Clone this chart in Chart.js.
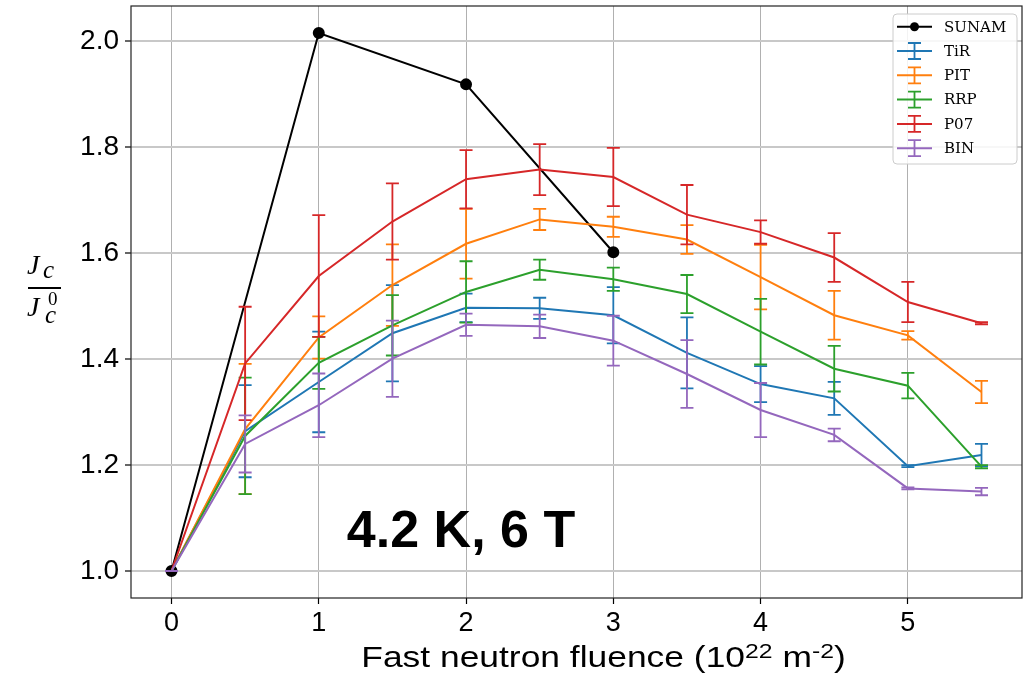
<!DOCTYPE html>
<html>
<head>
<meta charset="utf-8">
<script src="https://cdn.jsdelivr.net/npm/chart.js@4"></script>
<style>
  body { margin: 0; background: #fff; }
  canvas { display: block; }
</style>
</head>
<body>
<canvas id="chart" width="1023" height="687"></canvas>
<script>
// fluence values (10^22 m^-2)
const fluence = [0, 0.5, 1, 1.5, 2, 2.5, 3, 3.5, 4, 4.5, 5, 5.5]
const sunamX = [0, 1, 2, 3]
const sunamY = [1.0, 2.016, 1.919, 1.602]

const tiR = [1.0, 1.264, 1.357, 1.449, 1.497, 1.496, 1.483, 1.412, 1.353, 1.326, 1.198, 1.219]
const tiRErr = [0, 0.087, 0.095, 0.091, 0.027, 0.020, 0.053, 0.067, 0.034, 0.031, 0.002, 0.021]
const pit = [1.0, 1.268, 1.441, 1.540, 1.618, 1.664, 1.650, 1.626, 1.555, 1.483, 1.445, 1.338]
const pitErr = [0, 0.123, 0.040, 0.077, 0.066, 0.020, 0.019, 0.027, 0.061, 0.046, 0.008, 0.021]
const rrp = [1.0, 1.255, 1.393, 1.464, 1.527, 1.569, 1.551, 1.523, 1.452, 1.382, 1.350, 1.197]
const rrpErr = [0, 0.110, 0.049, 0.057, 0.058, 0.019, 0.022, 0.036, 0.062, 0.043, 0.024, 0.003]
const p07 = [1.0, 1.392, 1.557, 1.660, 1.740, 1.758, 1.744, 1.673, 1.640, 1.592, 1.508, 1.468]
const p07Err = [0, 0.107, 0.115, 0.072, 0.055, 0.048, 0.055, 0.056, 0.022, 0.046, 0.038, 0.002]
const bin = [1.0, 1.240, 1.313, 1.401, 1.465, 1.462, 1.435, 1.372, 1.304, 1.257, 1.156, 1.150]
const binErr = [0, 0.054, 0.060, 0.072, 0.021, 0.022, 0.047, 0.064, 0.051, 0.012, 0.002, 0.007]

const xTicks = [0, 1, 2, 3, 4, 5]
const yTicks = [1.0, 1.2, 1.4, 1.6, 1.8, 2.0]

const seriesNames = ["SUNAM", "TiR", "PIT", "RRP", "P07", "BIN"]
const seriesColors = ["#000000", "#1f77b4", "#ff7f0e", "#2ca02c", "#d62728", "#9467bd"]

function points(xs, ys) {
    return xs.map((x, i) => ({ x: x, y: ys[i] }))
}

const errSeries = [[tiR, tiRErr], [pit, pitErr], [rrp, rrpErr], [p07, p07Err], [bin, binErr]]

let datasets = [{
    label: "SUNAM",
    data: points(sunamX, sunamY),
    borderColor: "#000",
    backgroundColor: "#000",
    borderWidth: 2,
    pointRadius: 5,
    pointHoverRadius: 5,
    order: 6
}]
errSeries.forEach((s, i) => {
    datasets.push({
        label: seriesNames[i + 1],
        data: points(fluence, s[0]),
        errors: s[1],
        borderColor: seriesColors[i + 1],
        backgroundColor: seriesColors[i + 1],
        borderWidth: 2,
        pointRadius: 0,
        order: 5 - i
    })
})

// error bars drawn with each dataset
const errorBars = {
    id: "errorBars",
    afterDatasetDraw(chart, args) {
        const ds = chart.data.datasets[args.index]
        if (!ds.errors) return
        const xs = chart.scales.x, ys = chart.scales.y, ctx = chart.ctx
        ctx.save()
        ctx.strokeStyle = ds.borderColor
        ctx.lineWidth = 1.8
        ds.data.forEach((p, i) => {
            const e = ds.errors[i]
            const px = xs.getPixelForValue(p.x)
            const top = ys.getPixelForValue(p.y + e)
            const bot = ys.getPixelForValue(p.y - e)
            ctx.beginPath()
            ctx.moveTo(px, top); ctx.lineTo(px, bot)
            ctx.moveTo(px - 6.5, top); ctx.lineTo(px + 6.5, top)
            ctx.moveTo(px - 6.5, bot); ctx.lineTo(px + 6.5, bot)
            ctx.stroke()
        })
        ctx.restore()
    }
}

const decorations = {
    id: "decorations",
    afterDraw(chart) {
        const ctx = chart.ctx, a = chart.chartArea
        ctx.save()
        // frame
        ctx.strokeStyle = "#222"
        ctx.lineWidth = 1.2
        ctx.strokeRect(a.left, a.top, a.right - a.left, a.bottom - a.top)

        // legend
        const lx = 893, ly = 14
        ctx.beginPath()
        ctx.roundRect(lx, ly, 124, 150, 4)
        ctx.fillStyle = "rgba(255,255,255,0.85)"
        ctx.fill()
        ctx.strokeStyle = "#cccccc"
        ctx.lineWidth = 1
        ctx.stroke()
        ctx.font = "15px 'DejaVu Serif'"
        ctx.textBaseline = "middle"
        seriesNames.forEach((name, i) => {
            const y = 26.7 + i * 24.3
            ctx.strokeStyle = seriesColors[i]
            ctx.fillStyle = seriesColors[i]
            ctx.lineWidth = 2
            ctx.beginPath()
            ctx.moveTo(897, y); ctx.lineTo(932, y)
            ctx.stroke()
            if (i == 0) {
                ctx.beginPath()
                ctx.arc(914.5, y, 4.5, 0, Math.PI * 2)
                ctx.fill()
            } else {
                ctx.lineWidth = 1.8
                ctx.beginPath()
                ctx.moveTo(914.5, y - 8); ctx.lineTo(914.5, y + 8)
                ctx.moveTo(908, y - 8); ctx.lineTo(921, y - 8)
                ctx.moveTo(908, y + 8); ctx.lineTo(921, y + 8)
                ctx.stroke()
            }
            ctx.fillStyle = "#000"
            ctx.fillText(name, 944, y + 1)
        })

        // annotation
        ctx.fillStyle = "#000"
        ctx.textAlign = "center"
        ctx.textBaseline = "alphabetic"
        ctx.font = "bold 52px 'Liberation Sans'"
        ctx.fillText("4.2 K, 6 T", 461, 547)

        // x axis title with superscripts, stretched a little like the picture
        ctx.textAlign = "left"
        const big = "30px 'Liberation Sans'", small = "21px 'Liberation Sans'"
        const parts = [["Fast neutron fluence (10", big, 0], ["22", small, -9], [" m", big, 0], ["-2", small, -9], [")", big, 0]]
        const sx = 1.18
        let w = 0
        parts.forEach(p => { ctx.font = p[1]; w += ctx.measureText(p[0]).width })
        ctx.save()
        ctx.translate(603.5 - w * sx / 2, 667)
        ctx.scale(sx, 1)
        let x = 0
        parts.forEach(p => {
            ctx.font = p[1]
            ctx.fillText(p[0], x, p[2])
            x += ctx.measureText(p[0]).width
        })
        ctx.restore()

        // y axis title: Jc / Jc0
        ctx.font = "italic 28px 'Liberation Serif'"
        ctx.fillText("J", 27, 274)
        ctx.font = "italic 25px 'Liberation Serif'"
        ctx.fillText("c", 43, 278)
        ctx.fillRect(28, 287, 33, 2)
        ctx.font = "italic 28px 'Liberation Serif'"
        ctx.fillText("J", 27, 316)
        ctx.font = "italic 25px 'Liberation Serif'"
        ctx.fillText("c", 45, 323)
        ctx.font = "19px 'Liberation Serif'"
        ctx.fillText("0", 48, 305)
        ctx.restore()
    }
}

Chart.defaults.font.family = "'Liberation Sans', Arial, sans-serif"
Chart.defaults.color = "#000"

new Chart(document.getElementById("chart"), {
    type: "line",
    data: { datasets: datasets },
    options: {
        responsive: false,
        animation: false,
        devicePixelRatio: 1,
        layout: { autoPadding: false, padding: { top: 6, right: 1, left: 0, bottom: 0 } },
        plugins: { legend: { display: false }, tooltip: { enabled: false } },
        elements: { line: { tension: 0 } },
        scales: {
            x: {
                type: "linear",
                min: -0.275,
                max: 5.775,
                afterBuildTicks: (s) => { s.ticks = xTicks.map(v => ({ value: v })) },
                afterFit: (s) => { s.height = 89; s.paddingLeft = 0; s.paddingRight = 0 },
                ticks: { font: { size: 27 }, padding: 3, callback: (v) => String(v) },
                grid: { color: "#b0b0b0", lineWidth: 1, tickColor: "#000", tickLength: 6, tickWidth: 1.2 },
                border: { display: false }
            },
            y: {
                type: "linear",
                min: 0.949,
                max: 2.067,
                afterBuildTicks: (s) => { s.ticks = yTicks.map(v => ({ value: v })) },
                afterFit: (s) => { s.width = 131; s.paddingTop = 0; s.paddingBottom = 0 },
                ticks: { font: { size: 28 }, padding: 6, callback: (v) => v.toFixed(1) },
                grid: { color: "#c8c8c8", lineWidth: 2, tickColor: "#000", tickLength: 6, tickWidth: 1.2 },
                border: { display: false }
            }
        }
    },
    plugins: [errorBars, decorations]
})
</script>
</body>
</html>
